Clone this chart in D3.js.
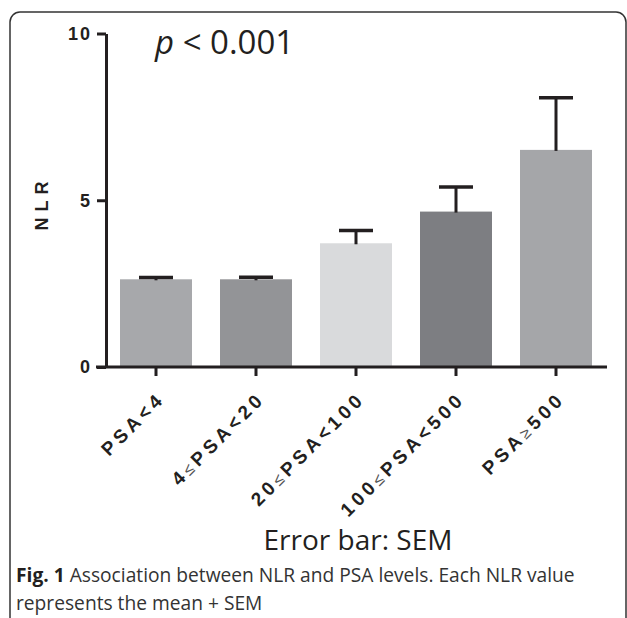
<!DOCTYPE html>
<html>
<head>
<meta charset="utf-8">
<script src="https://cdn.jsdelivr.net/npm/d3@7"></script>
<style>
  body { margin: 0; background: #fff; }
</style>
</head>
<body>
<div id="chart"></div>
<script>
// data
var categories = ["PSA<4", "4≤PSA<20", "20≤PSA<100", "100≤PSA<500", "PSA≥500"];
var means = [2.63, 2.63, 3.71, 4.66, 6.51];
var sems = [0.05, 0.06, 0.38, 0.74, 1.56];
var barColors = ["#a7a8ab", "#939497", "#d9dadc", "#7d7e82", "#a5a6a9"];
var yTicks = [0, 5, 10];

function init() {
    var w = 627;
    var h = 618;

    var svg = d3.select("#chart")
        .append("svg")
        .attr("width", w)
        .attr("height", h);

    // rounded frame, open at the bottom of the picture
    svg.append("rect")
        .attr("x", 10)
        .attr("y", 12)
        .attr("width", 616)
        .attr("height", 640)
        .attr("rx", 10)
        .attr("fill", "none")
        .attr("stroke", "#333")
        .attr("stroke-width", 1.5);

    var x = d3.scaleBand()
        .domain(categories)
        .range([106, 606])
        .paddingInner(0.28)
        .paddingOuter(0.14);

    var y = d3.scaleLinear()
        .domain([0, 10])
        .range([367, 33.5]);

    var data = categories.map(function (c, i) {
        return { cat: c, mean: means[i], sem: sems[i], color: barColors[i] };
    });

    // bars
    svg.selectAll("rect.bar")
        .data(data)
        .enter()
        .append("rect")
        .attr("class", "bar")
        .attr("x", function (d) { return x(d.cat); })
        .attr("y", function (d) { return y(d.mean); })
        .attr("width", x.bandwidth())
        .attr("height", function (d) { return y(0) - y(d.mean); })
        .attr("fill", function (d) { return d.color; });

    // error bars (mean + SEM)
    var err = svg.selectAll("g.err")
        .data(data)
        .enter()
        .append("g")
        .attr("class", "err");
    err.append("line")
        .attr("x1", function (d) { return x(d.cat) + x.bandwidth() / 2; })
        .attr("x2", function (d) { return x(d.cat) + x.bandwidth() / 2; })
        .attr("y1", function (d) { return y(d.mean) + 1; })
        .attr("y2", function (d) { return y(d.mean + d.sem); })
        .attr("stroke", "#231f20")
        .attr("stroke-width", 3);
    err.append("line")
        .attr("x1", function (d) { return x(d.cat) + x.bandwidth() / 2 - 17; })
        .attr("x2", function (d) { return x(d.cat) + x.bandwidth() / 2 + 17; })
        .attr("y1", function (d) { return y(d.mean + d.sem); })
        .attr("y2", function (d) { return y(d.mean + d.sem); })
        .attr("stroke", "#231f20")
        .attr("stroke-width", 3.5);

    // y axis
    var yAxis = svg.append("g")
        .attr("transform", "translate(106,0)")
        .call(d3.axisLeft(y).tickValues(yTicks).tickFormat(d3.format("d"))
            .tickSize(9).tickSizeOuter(0).tickPadding(5));
    yAxis.select(".domain").attr("stroke", "#231f20").attr("stroke-width", 3);
    yAxis.selectAll(".tick line").attr("stroke", "#231f20").attr("stroke-width", 3);
    yAxis.selectAll(".tick text")
        .attr("font-family", "Liberation Sans, Arial, sans-serif")
        .attr("font-weight", "bold")
        .attr("font-size", 18)
        .attr("letter-spacing", 2)
        .attr("fill", "#231f20");

    // x axis
    var xAxis = svg.append("g")
        .attr("transform", "translate(0," + y(0) + ")")
        .call(d3.axisBottom(x).tickSize(9).tickSizeOuter(0).tickFormat(""));
    xAxis.select(".domain").remove();
    xAxis.selectAll(".tick line").attr("stroke", "#231f20").attr("stroke-width", 3);
    svg.append("line")
        .attr("x1", x.range()[0] - 10)
        .attr("x2", x.range()[1] + 1)
        .attr("y1", y(0))
        .attr("y2", y(0))
        .attr("stroke", "#231f20")
        .attr("stroke-width", 3);

    // rotated category labels
    var labels = svg.selectAll("text.xlab")
        .data(data)
        .enter()
        .append("text")
        .attr("class", "xlab")
        .attr("transform", function (d) {
            var cx = x(d.cat) + x.bandwidth() / 2;
            return "translate(" + (cx + 10) + "," + (y(0) + 33) + ") rotate(-45)";
        })
        .attr("text-anchor", "end")
        .attr("font-family", "Liberation Sans, Arial, sans-serif")
        .attr("font-weight", "bold")
        .attr("font-size", 19)
        .attr("letter-spacing", 4)
        .attr("fill", "#231f20");
    labels.each(function (d) {
        var t = d3.select(this);
        var parts = d.cat.split(/([≤≥])/);
        parts.forEach(function (p) {
            var span = t.append("tspan").text(p);
            if (p === "≤" || p === "≥") {
                span.attr("font-weight", "normal").attr("font-size", 16).attr("fill", "#555");
            }
        });
    });

    // y axis title
    svg.append("text")
        .attr("transform", "translate(48,203) rotate(-90)")
        .attr("text-anchor", "middle")
        .attr("font-family", "Liberation Sans, Arial, sans-serif")
        .attr("font-weight", "bold")
        .attr("font-size", 18)
        .attr("letter-spacing", 6)
        .attr("fill", "#231f20")
        .text("NLR");

    // p value
    var pText = svg.append("text")
        .attr("x", 155)
        .attr("y", 54)
        .attr("font-family", "Open Sans, sans-serif")
        .attr("font-size", 33)
        .attr("fill", "#231f20");
    pText.append("tspan").attr("font-style", "italic").text("p");
    pText.append("tspan").text(" < 0.001");

    // error bar note
    svg.append("text")
        .attr("x", 358)
        .attr("y", 550)
        .attr("text-anchor", "middle")
        .attr("font-family", "Open Sans, sans-serif")
        .attr("font-size", 28)
        .attr("fill", "#231f20")
        .text("Error bar: SEM");

    // caption
    var cap1 = svg.append("text")
        .attr("x", 16)
        .attr("y", 582)
        .attr("font-family", "Open Sans, sans-serif")
        .attr("font-size", 19.2)
        .attr("fill", "#231f20");
    cap1.append("tspan").attr("font-weight", "bold").text("Fig. 1");
    cap1.append("tspan").attr("fill", "#333").text(" Association between NLR and PSA levels. Each NLR value");
    svg.append("text")
        .attr("x", 16)
        .attr("y", 610)
        .attr("font-family", "Open Sans, sans-serif")
        .attr("font-size", 19.2)
        .attr("fill", "#333")
        .text("represents the mean + SEM");
}
window.onload = init;
</script>
</body>
</html>
